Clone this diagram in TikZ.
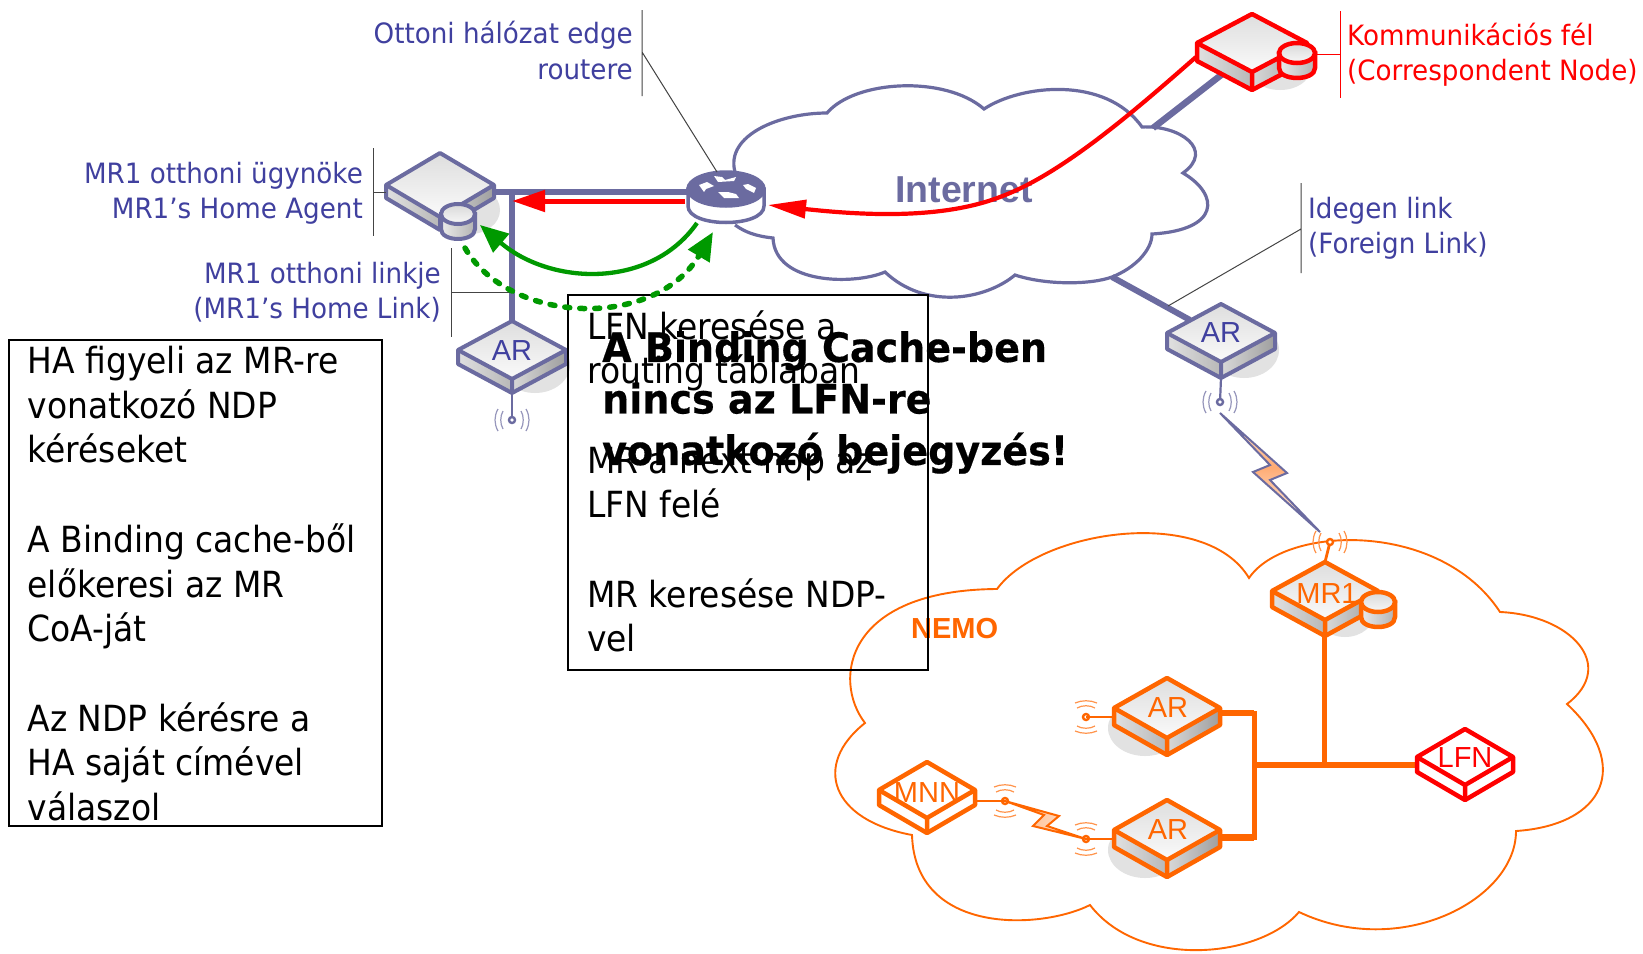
\documentclass[tikz,border=0pt]{standalone}
\usepackage{fontspec}
\usetikzlibrary{arrows.meta}
\newfontfamily\tah[FakeStretch=0.915]{DejaVu Sans}
\newfontfamily\lab[FakeStretch=0.935]{DejaVu Sans}
\newfontfamily\tahb[FakeStretch=0.94,FakeBold=0.4]{DejaVu Sans Bold}
\newfontfamily\ari{Liberation Sans}
\definecolor{netblue}{HTML}{6B6BA0}
\definecolor{lblblue}{HTML}{40409F}
\definecolor{nemo}{HTML}{FF6600}
\definecolor{grn}{HTML}{009900}
\definecolor{shad}{HTML}{E2E2E2}
\definecolor{thin}{HTML}{444444}
\tikzset{
 topface/.style={top color=black!13,bottom color=black!2},
 lface/.style={left color=black!12,right color=black!28},
 rface/.style={left color=black!15,right color=black!38},
 cylbody/.style={left color=black!8,right color=black!30},
 cyltop/.style={top color=black!15,bottom color=black!3},
 label/.style={inner sep=0pt,font=\lab\fontsize{28}{35}\selectfont,text=lblblue},
 tinyline/.style={draw=thin,line width=1pt},
 bigbox/.style={draw=black,line width=2pt},
 bodytext/.style={inner sep=0pt,anchor=north west,align=left,font=\tah\fontsize{36}{44.7}\selectfont},
 boldtext/.style={inner sep=0pt,anchor=north west,align=left,font=\tahb\fontsize{40.5}{51.5}\selectfont},
 devtext/.style={inner sep=0pt,anchor=base,font=\ari\fontsize{29}{30}\selectfont},
 wlink/.style={line width=5.5pt,draw=#1},
}
% name cx cy hw hh depth colour linewidth
\newcommand\devbox[8]{%
 \begin{scope}[shift={(#2,#3)},line join=round]
 \coordinate (#1) at (0,0);
 \coordinate (#1-t) at (0,-#5);
 \coordinate (#1-l) at (-#4,0);
 \coordinate (#1-r) at (#4,0);
 \coordinate (#1-b) at (0,{#5+#6});
 \path[lface] (-#4,0) -- (0,#5) -- (0,{#5+#6}) -- (-#4,#6) -- cycle;
 \path[rface] (#4,0) -- (0,#5) -- (0,{#5+#6}) -- (#4,#6) -- cycle;
 \path[topface] (-#4,0) -- (0,-#5) -- (#4,0) -- (0,#5) -- cycle;
 \draw[#7,line width=#8] (-#4,0) -- (0,-#5) -- (#4,0) -- (#4,#6) -- (0,{#5+#6}) -- (-#4,#6) -- cycle;
 \draw[#7,line width=#8] (-#4,0) -- (0,#5) -- (#4,0) (0,#5) -- (0,{#5+#6});
 \end{scope}}
% name cx cy rx ry height colour linewidth
\newcommand\cylin[8]{%
 \begin{scope}[shift={(#2,#3)}]
 \coordinate (#1) at (0,0);
 \path[cylbody,draw=#7,line width=#8] (-#4,0) -- (-#4,#6) .. controls (-#4,{#6+1.33*#5}) and (#4,{#6+1.33*#5}) .. (#4,#6) -- (#4,0) -- cycle;
 \path[cyltop,draw=#7,line width=#8] (0,0) circle[x radius=#4pt,y radius=#5pt];
 \end{scope}}
% name x y colour : antenna with waves left and right
\newcommand\wavesH[4]{%
 \begin{scope}[shift={(#2,#3)}]
 \coordinate (#1) at (0,0);
 \draw[#4,line width=2.4pt,fill=white] (0,0) circle[radius=3pt];
 \draw[#4!70,line width=1.2pt] (-9,-9) .. controls (-12,-4) and (-12,4) .. (-9,9) (9,-9) .. controls (12,-4) and (12,4) .. (9,9)
   (-14,-11) .. controls (-18,-4) and (-18,4) .. (-14,11) (14,-11) .. controls (18,-4) and (18,4) .. (14,11);
 \end{scope}}
\newcommand\wavesV[4]{%
 \begin{scope}[shift={(#2,#3)}]
 \coordinate (#1) at (0,0);
 \draw[#4,line width=2.4pt,fill=white] (0,0) circle[radius=3pt];
 \draw[#4!70,line width=1.2pt] (-9,-9) .. controls (-4,-12) and (4,-12) .. (9,-9) (-9,9) .. controls (-4,12) and (4,12) .. (9,9)
   (-11,-14) .. controls (-4,-17) and (4,-17) .. (11,-14) (-11,14) .. controls (-4,17) and (4,17) .. (11,14);
 \end{scope}}
\begin{document}
\begin{tikzpicture}[x=1pt,y=-1pt]
\useasboundingbox[fill=white] (0,0) rectangle (1643,953);

% ---- NEMO cloud
\coordinate (p1) at (997,589);\coordinate (p2) at (1249,578);\coordinate (p3) at (1500,612);
\coordinate (p4) at (1567,704);\coordinate (p5) at (1516,831);\coordinate (p6) at (1299,912);
\coordinate (p7) at (1090,905);\coordinate (p8) at (912,835);\coordinate (p9) at (865,723);
\draw[nemo,line width=1.9pt] (p1)
 .. controls (1040,530) and (1205,505) .. (p2)
 .. controls (1285,525) and (1440,520) .. (p3)
 .. controls (1570,615) and (1618,665) .. (p4)
 .. controls (1632,765) and (1605,825) .. (p5)
 .. controls (1516,900) and (1400,960) .. (p6)
 .. controls (1260,958) and (1140,970) .. (p7)
 .. controls (1040,930) and (915,935) .. (p8)
 .. controls (831,820) and (812,765) .. (p9)
 .. controls (832,680) and (845,590) .. (p1) -- cycle;

% ---- Internet cloud
\coordinate (c0) at (735,172);\coordinate (cA) at (827,113);\coordinate (cB) at (984,109);
\coordinate (cC) at (1142,127);\coordinate (cD) at (1183,173);\coordinate (cE) at (1152,234);
\coordinate (cF) at (1112,277);\coordinate (cG) at (1015,275);\coordinate (cH) at (885,272);
\coordinate (cI) at (773,238);\coordinate (cJ) at (735,225);
\coordinate (cCw) at (1153,128);
\draw[netblue,line width=3.2pt] (c0) .. controls (725,135) and (780,113) .. (cA)
 .. controls (855,80) and (945,75) .. (cB)
 .. controls (1020,85) and (1105,75) .. (cC)
 .. controls (1180,125) and (1215,150) .. (cD)
 .. controls (1220,195) and (1220,230) .. (cE)
 .. controls (1152,250) and (1135,268) .. (cF)
 .. controls (1090,285) and (1045,285) .. (cG)
 .. controls (985,300) and (925,310) .. (cH)
 .. controls (855,285) and (775,285) .. (cI)
 .. controls (755,236) and (745,232) .. (cJ);
\node[inner sep=0pt,anchor=base west,text=netblue,font=\ari\bfseries\fontsize{37.5}{40}\selectfont] (inet) at (895,202) {Internet};

% ---- shadows
\fill[shad] (470,210) ellipse[x radius=30pt,y radius=24pt];
\fill[shad] (535,365) ellipse[x radius=35pt,y radius=28pt];
\fill[shad] (1244,350) ellipse[x radius=35pt,y radius=28pt];
\fill[shad] (1280,70) ellipse[x radius=30pt,y radius=20pt];
\fill[shad] (1345,612) ellipse[x radius=30pt,y radius=25pt];
\fill[shad] (1145,728) ellipse[x radius=37pt,y radius=28pt];
\fill[shad] (1145,850) ellipse[x radius=37pt,y radius=28pt];

% ---- named link points
\coordinate (hub) at (512,192);
\coordinate (haport) at (494,192);
\coordinate (rtport) at (690,192);
\coordinate (bbjoin) at (1254,765);
\coordinate (up1) at (1254,713);
\coordinate (up2) at (1254,837);
\coordinate (mrjoin) at (1324,765);
\coordinate (cnport) at (1225,72);
\coordinate (arport) at (1190,320);
\coordinate (arht) at (512,321);
\coordinate (mrb) at (1324,636);
\coordinate (lfnl) at (1417,765);
\coordinate (arur) at (1220,713);
\coordinate (arlr) at (1220,837);

% ---- wires
\draw[wlink=netblue] (haport) -- (rtport);
\draw[wlink=netblue] (hub) -- (arht);
\draw[wlink=netblue,line width=6.5pt] (cCw) -- (cnport);
\draw[wlink=netblue,line width=6pt] (cF) -- (arport);
\draw[nemo,line width=5pt] (mrb) -- (mrjoin);
\draw[nemo,line width=6pt] (bbjoin) -- (lfnl);
\draw[nemo,line width=5pt,line cap=rect] (up1) -- (up2);
\draw[nemo,line width=6pt] (arur) -- (up1);
\draw[nemo,line width=7pt] (arlr) -- (up2);

% ---- devices
\devbox{ha}{440}{185}{54}{32}{13}{netblue}{4pt}
\cylin{hadb}{458}{214}{17}{10}{15}{netblue}{4pt}
\devbox{arh}{512}{350}{54}{29}{14}{netblue}{4pt}
\devbox{arf}{1221}{333}{54}{29}{16}{netblue}{4pt}
\devbox{cn}{1252}{43}{55}{29}{18}{red}{4.5pt}
\cylin{cndb}{1297}{53}{18}{10}{15}{red}{4.5pt}
\devbox{mr}{1325}{591}{53}{29}{16}{nemo}{4.5pt}
\cylin{mrdb}{1378}{602}{17}{10}{15}{nemo}{4.5pt}
\devbox{aru}{1167}{708}{53}{30}{17}{nemo}{4.5pt}
\devbox{arl}{1167}{830}{53}{30}{17}{nemo}{4.5pt}
\begin{scope}[topface/.style={fill=white},lface/.style={fill=white},rface/.style={fill=white}]
\devbox{lfn}{1465}{757}{48}{28}{15}{red}{4.5pt}
\devbox{mnn}{927}{790}{48}{28}{15}{nemo}{4.5pt}
\end{scope}

% ---- router
\begin{scope}[shift={(726,189)}]
\coordinate (rt) at (0,0);
\draw[netblue,line width=3.5pt,fill=white] (-38,0) -- (-38,17) .. controls (-38,39) and (38,39) .. (38,17) -- (38,0) -- cycle;
\draw[netblue,line width=3.5pt,fill=netblue] (0,0) circle[x radius=38pt,y radius=17pt];
\fill[white] (-12,-13) -- (-4,-12) -- (-1,-9) -- (10,-12) -- (8,-8) -- (-8,-7) -- cycle
 (-27,-4) -- (-19,-7) -- (-12,-3) -- (-20,0) -- (-22,3) -- cycle
 (17,-4) -- (22,-5) -- (30,-1) -- (28,4) -- (20,0) -- cycle
 (-8,3) -- (2,3) -- (10,5) -- (13,9) -- (-2,9) -- cycle;
\end{scope}
\coordinate (rtnear) at (717,172);

% ---- antennas
\coordinate (dotarh) at (512,420);
\coordinate (dotarf) at (1220,402);
\coordinate (dotmr) at (1330,542);
\coordinate (aruport) at (1114,717);
\coordinate (arlport) at (1114,839);
\coordinate (mnnport) at (975,801);
\draw[netblue,line width=2.2pt] (arh-b) -- (dotarh);
\wavesH{wh}{512}{420}{netblue}
\draw[netblue,line width=2.2pt] (arf-b) -- (dotarf);
\wavesH{wf}{1220}{402}{netblue}
\draw[nemo,line width=2.8pt] (mr-t) -- (dotmr);
\wavesH{wm}{1330}{542}{nemo}
\wavesV{wu}{1086}{717}{nemo}
\draw[nemo,line width=2.8pt] (aruport) -- (wu);
\wavesV{wl}{1086}{839}{nemo}
\draw[nemo,line width=2.8pt] (arlport) -- (wl);
\wavesV{wn}{1005}{801}{nemo}
\draw[nemo,line width=2.8pt] (mnnport) -- (wn);

% ---- lightning
\path[top color=white,bottom color=white,middle color=nemo!55,draw=netblue,line width=2pt,line join=miter]
 (wf) ++(0,11) -- (1287,473) -- (1270,480) -- (1320,532) -- (1253,472) -- (1270,465) -- cycle;
\path[left color=nemo!50,right color=nemo!15,draw=nemo,line width=2pt]
 (wn) -- (1059,816) -- (1047,826) -- (wl) -- (1033,826) -- (1044,815) -- cycle;

% ---- label ticks
\coordinate (t1a) at (642,10);\coordinate (t1b) at (642,96);\coordinate (t1c) at (642,52);
\draw[tinyline] (t1a) -- (t1b) (t1c) -- (rtnear);
\coordinate (t2a) at (373,148);\coordinate (t2b) at (373,236);\coordinate (t2c) at (373,192);
\draw[tinyline] (t2a) -- (t2b) (t2c) -- (ha-l |- t2c);
\coordinate (t3a) at (451,248);\coordinate (t3b) at (451,337);\coordinate (t3c) at (451,292);
\draw[tinyline] (t3a) -- (t3b) (t3c) -- (hub |- t3c);
\coordinate (t4a) at (1301,183);\coordinate (t4b) at (1301,273);\coordinate (t4c) at (1301,229);\coordinate (t4d) at (1168,306);
\draw[tinyline] (t4a) -- (t4b) (t4c) -- (t4d);
\coordinate (t5a) at (1340,11);\coordinate (t5b) at (1340,98);\coordinate (t5c) at (1340,54);\coordinate (t5d) at (1316,54);
\draw[red,line width=1pt] (t5a) -- (t5b) (t5c) -- (t5d);

% ---- labels
\node[label,anchor=base east] (l1) at (633,43) {Ottoni hálózat edge};
\node[label,anchor=base east] (l1b) at (633,79) {routere};
\node[label,anchor=base east] (l2) at (363,183) {MR1 otthoni ügynöke};
\node[label,anchor=base east] (l2b) at (363,218) {MR1’s Home Agent};
\node[label,anchor=base east] (l3) at (441,283) {MR1 otthoni linkje};
\node[label,anchor=base east] (l3b) at (441,318) {(MR1’s Home Link)};
\node[label,anchor=base west,text=red] (l4) at (1347,45) {Kommunikációs fél};
\node[label,anchor=base west,text=red] (l4b) at (1347,80) {(Correspondent Node)};
\node[label,anchor=base west] (l5) at (1308,218) {Idegen link};
\node[label,anchor=base west] (l5b) at (1308,253) {(Foreign Link)};
\node[inner sep=0pt,anchor=base west,text=nemo,font=\ari\bfseries\fontsize{29}{30}\selectfont] (nm) at (911,638) {NEMO};
\node[devtext,text=lblblue] (ta) at (512,360) {AR};
\node[devtext,text=lblblue] (tb) at (1221,342) {AR};
\node[devtext,text=nemo] (tc) at (1327,603) {MR1};
\node[devtext,text=nemo] (td) at (1168,717) {AR};
\node[devtext,text=nemo] (te) at (1168,839) {AR};
\node[devtext,text=red] (tf) at (1465,767) {LFN};
\node[devtext,text=nemo] (tg) at (927,802) {MNN};

% ---- text boxes
\node[bigbox,minimum width=373pt,minimum height=486pt,anchor=north west,inner sep=0pt] (boxa) at (8,339) {};
\node[bigbox,minimum width=360pt,minimum height=375pt,anchor=north west,inner sep=0pt] (boxb) at (567,294) {};
\node[bodytext] (ta1) at (27.5,346) {HA figyeli az MR-re\\vonatkozó NDP\\kéréseket\\[44.7pt]A Binding cache-ből\\előkeresi az MR\\CoA-ját\\[44.7pt]Az NDP kérésre a\\HA saját címével\\válaszol};
\node[bodytext] (tb1) at (587,310) {LFN keresése a\\routing táblában\\[44.7pt]MR a next hop az\\LFN felé\\[44.7pt]MR keresése NDP-\\vel};
\node[boldtext] (tc1) at (602,331) {A Binding Cache-ben\\nincs az LFN-re\\vonatkozó bejegyzés!};

% ---- arrows
\coordinate (ra1) at (685,201);\coordinate (ra2) at (512,201);
\draw[red,line width=5pt,-{Triangle[length=33pt,width=21pt]}] (ra1) -- (ra2);
\coordinate (rb1) at (1196,57);\coordinate (rb2) at (1000,197);\coordinate (rb3) at (768,205);
\draw[red,line width=4.2pt,-{Triangle[length=38pt,width=18pt]}] (rb1) .. controls (1130,115) and (1060,175) .. (rb2) .. controls (940,220) and (860,215) .. (rb3);
\coordinate (ga1) at (697,223);\coordinate (ga2) at (480,225);
\draw[grn,line width=4.3pt,-{Triangle[length=28pt,width=24pt]}] (ga1) .. controls (650,290) and (550,285) .. (ga2);
\coordinate (gb1) at (465,248);\coordinate (gb2) at (713,232);
\draw[grn,line width=5.5pt,line cap=round,dash pattern=on 5pt off 10pt,-{Triangle[length=28pt,width=24pt]}] (gb1) .. controls (510,325) and (655,330) .. (gb2);
\end{tikzpicture}
\end{document}
